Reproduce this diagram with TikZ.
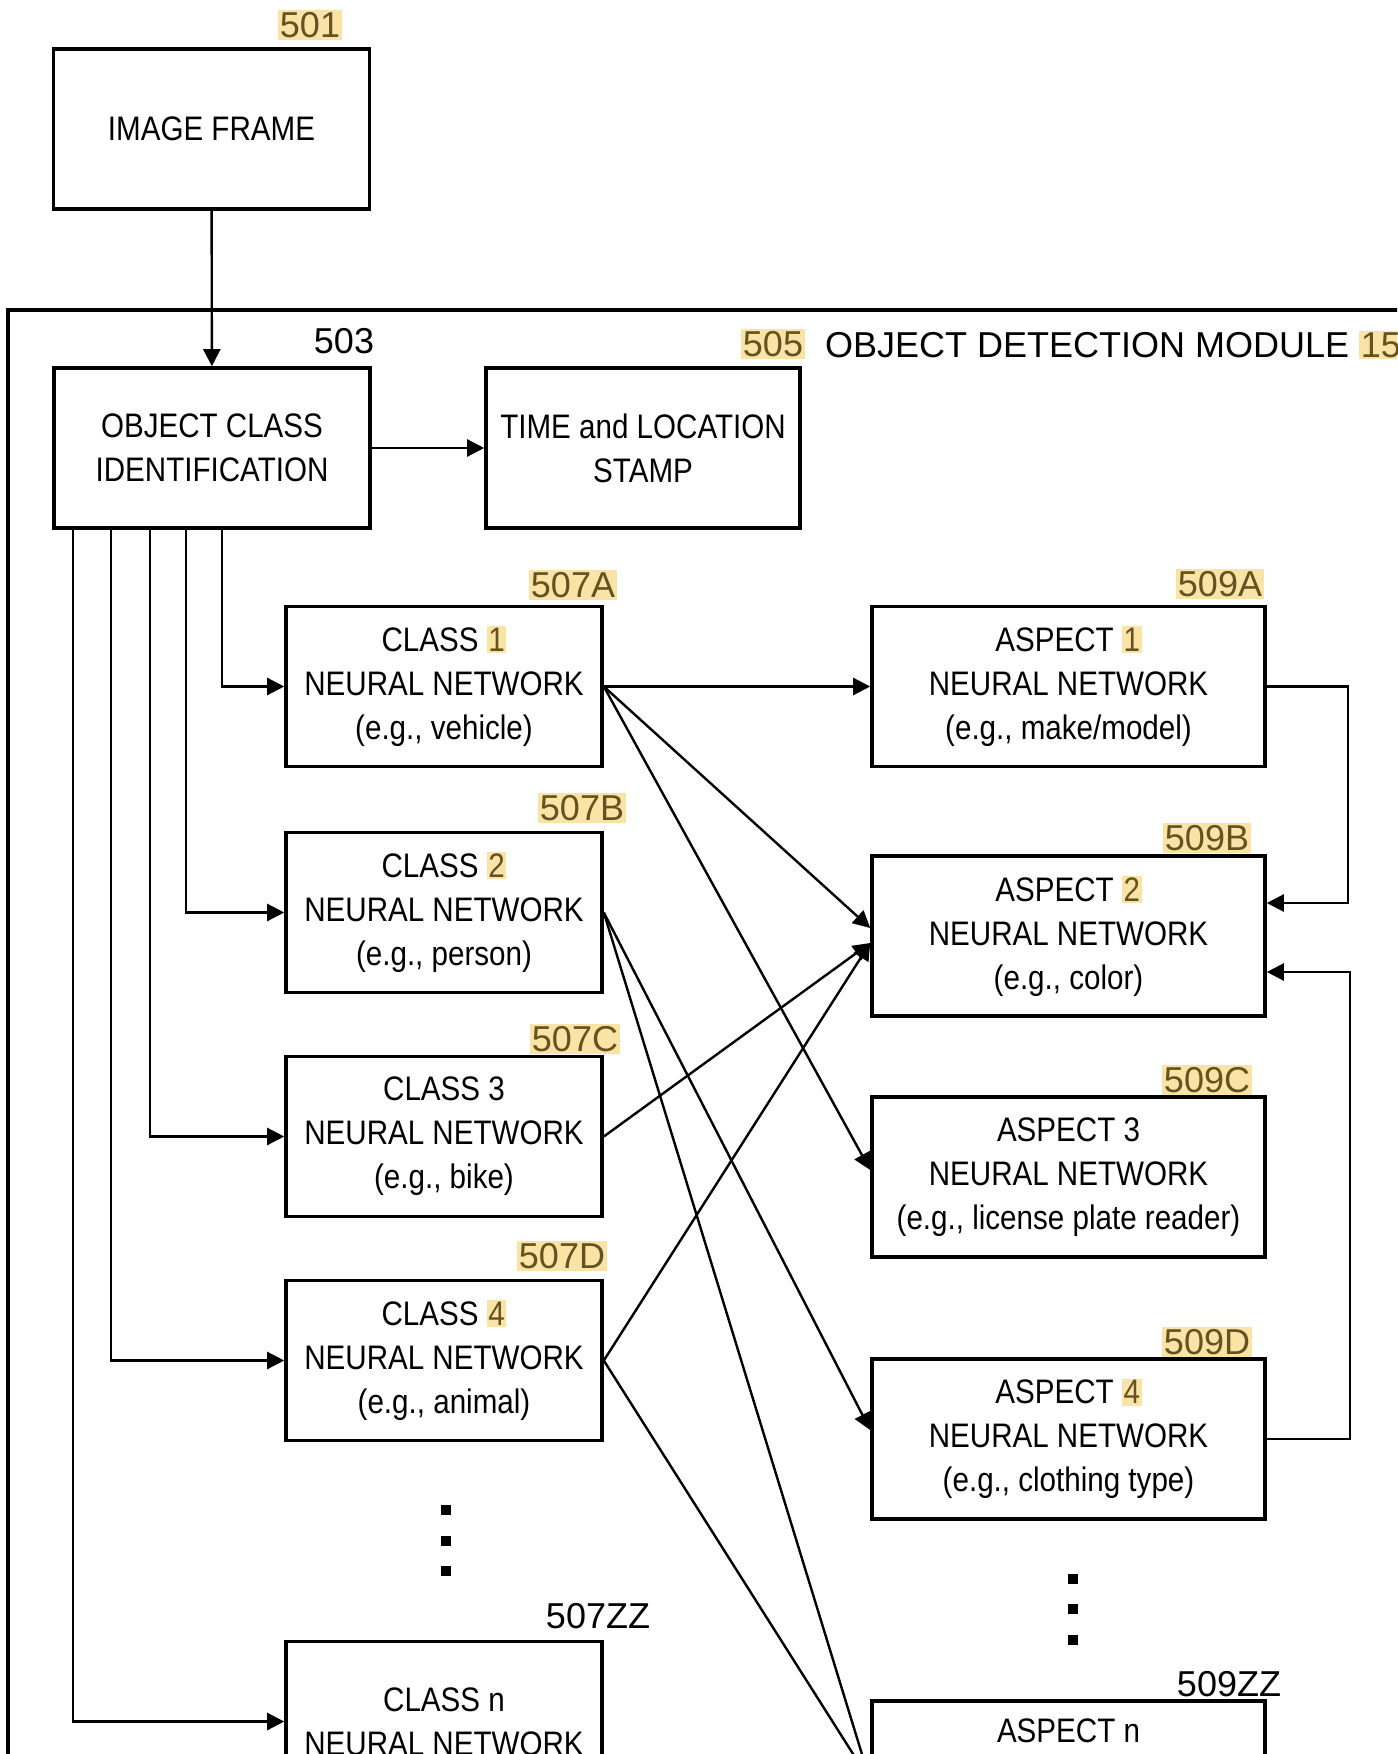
\documentclass[tikz,border=0pt]{standalone}
\usepackage{fontspec}
\setmainfont{Liberation Sans}
\newfontfamily\boxfont[FakeStretch=0.87]{Liberation Sans}
\usetikzlibrary{arrows.meta}
\definecolor{hlbg}{RGB}{250,227,165}
\definecolor{hltxt}{RGB}{100,82,32}
\newcommand{\hl}[1]{{\setlength{\fboxsep}{0.8pt}\colorbox{hlbg}{\textcolor{hltxt}{#1}}}}
\tikzset{
  blk/.style={draw, line width=1.8pt, minimum height=80pt, inner sep=0pt,
    align=center, font=\boxfont\fontsize{17}{22}\selectfont},
  refnum/.style={inner sep=1pt, font=\fontsize{18}{20}\selectfont},
  refhl/.style={refnum, fill=hlbg, text=hltxt}
}

\begin{document}
\begin{tikzpicture}[x=0.5pt, y=-0.5pt, line width=1.2pt,
    >={Triangle[length=8.5pt,width=8.5pt]}]
  \useasboundingbox (0,0) rectangle (1397,1754);
  \clip (0,0) rectangle (1397,1754);

  % input and module frame
  \node[blk, minimum width=158pt] (frame) at (211.5,129) {IMAGE FRAME};
  \node[refhl] (n501) at (310,25) {501};
  \draw[line width=1.8pt] (8,310) rectangle (1430,1820);
  \node[refhl] (n505) at (773,344) {505};
  \node[anchor=west, inner sep=0pt, font=\fontsize{18}{20}\selectfont] (title)
    at (824,345) {OBJECT DETECTION MODULE \hl{15}};

  \node[blk, minimum width=158pt] (ocid) at (212,448) {OBJECT CLASS\\IDENTIFICATION};
  \node[refnum] (n503) at (344,341) {503};
  \node[blk, minimum width=157pt] (stamp) at (643,448) {TIME and LOCATION\\STAMP};
  \draw[->] (frame) -- (ocid);
  \draw[->] (ocid) -- (stamp);

  % class networks
  \node[blk, minimum width=158pt] (clsA) at (444,686.5) {CLASS \hl{1}\\NEURAL NETWORK\\(e.g., vehicle)};
  \node[refhl] (n507A) at (573,585) {507A};
  \node[blk, minimum width=158pt] (clsB) at (444,912.5) {CLASS \hl{2}\\NEURAL NETWORK\\(e.g., person)};
  \node[refhl] (n507B) at (582,808) {507B};
  \node[blk, minimum width=158pt] (clsC) at (444,1136.5) {CLASS 3\\NEURAL NETWORK\\(e.g., bike)};
  \node[refhl] (n507C) at (575,1039) {507C};
  \node[blk, minimum width=158pt] (clsD) at (444,1360.5) {CLASS \hl{4}\\NEURAL NETWORK\\(e.g., animal)};
  \node[refhl] (n507D) at (562,1256) {507D};
  \node[blk, minimum width=158pt] (clsN) at (444,1721.5) {CLASS n\\NEURAL NETWORK};
  \node[refnum] (n507ZZ) at (598,1616) {507ZZ};
  \foreach \y [count=\i] in {1510,1541,1571}
    \node[fill, inner sep=0pt, minimum size=5pt] (vdL\i) at (446,\y) {};

  % aspect networks
  \node[blk, minimum width=196.5pt] (aspA) at (1068.5,686.5) {ASPECT \hl{1}\\NEURAL NETWORK\\(e.g., make/model)};
  \node[refhl] (n509A) at (1220,584) {509A};
  \node[blk, minimum width=196.5pt] (aspB) at (1068.5,936) {ASPECT \hl{2}\\NEURAL NETWORK\\(e.g., color)};
  \node[refhl] (n509B) at (1207,838) {509B};
  \node[blk, minimum width=196.5pt] (aspC) at (1068.5,1177) {ASPECT 3\\NEURAL NETWORK\\(e.g., license plate reader)};
  \node[refhl] (n509C) at (1207,1080) {509C};
  \node[blk, minimum width=196.5pt] (aspD) at (1068.5,1439) {ASPECT \hl{4}\\NEURAL NETWORK\\(e.g., clothing type)};
  \node[refhl] (n509D) at (1207,1342) {509D};
  \node[blk, minimum width=196.5pt] (aspN) at (1068.5,1781) {ASPECT n\\\strut\\\strut};
  \node[refnum] (n509ZZ) at (1229,1684) {509ZZ};
  \foreach \y [count=\i] in {1579,1609,1640}
    \node[fill, inner sep=0pt, minimum size=5pt] (vdR\i) at (1073,\y) {};

  % feeders from the class identification
  \foreach \dx/\cls in {5pt/clsA, -13pt/clsB, -31pt/clsC, -50.5pt/clsD, -69.5pt/clsN}
    \draw[->] ([xshift=\dx]ocid.south) |- (\cls.west);

  % class to aspect
  \draw[->] (clsA.east) -- (aspA.west);
  \draw[->] (clsA.east) -- ([yshift=4pt]aspB.west);
  \draw[->] (clsA.east) -- ([yshift=3.5pt]aspC.west);
  \draw[->] (clsB.east) -- ([yshift=4.5pt]aspD.west);
  \draw[->] (clsB.east) -- (aspN.west);
  \draw[->] (clsC.east) -- ([yshift=-3.5pt]aspB.west);
  \draw[->] (clsD.east) -- ([yshift=-3.5pt]aspB.west);
  \draw[->] (clsD.east) -- (aspN.west);

  % aspect feedback
  \draw[->] (aspA.east) -- ++(81,0) |- ([yshift=16.5pt]aspB.east);
  \draw[->] (aspD.east) -- ++(83,0) |- ([yshift=-18pt]aspB.east);
\end{tikzpicture}
\end{document}
